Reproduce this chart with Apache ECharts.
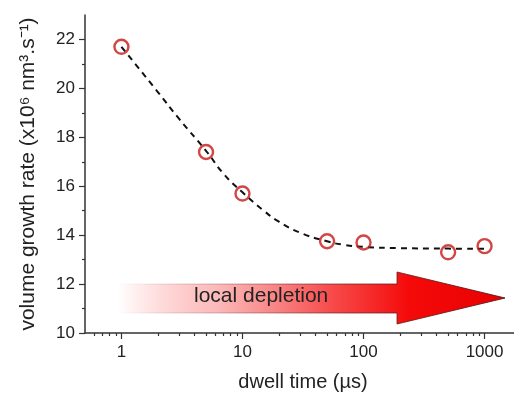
<!DOCTYPE html>
<html lang="en">
<head>
    <meta charset="UTF-8">
    <title>dwell time</title>
    <script src="https://cdn.jsdelivr.net/npm/echarts@6/dist/echarts.min.js"></script>
    <style type="text/css">
        body { margin: 0; background: #fff; }
        #main { width: 514px; height: 394px; }
    </style>
</head>
<body>
<div id="main"></div>
<script>
    // measured points
    var dwellTime = [1, 5, 10, 50, 100, 500, 1000];
    var growthRate = [21.7, 17.4, 15.7, 13.75, 13.7, 13.3, 13.55];

    // dashed fit curve
    var fitTime = [1, 2, 3, 5, 7, 10, 15, 20, 30, 50, 70, 100, 200, 500, 1000];
    var fitRate = [21.7, 19.85, 18.75, 17.45, 16.5, 15.75, 15.0, 14.55, 14.1, 13.75, 13.6, 13.52, 13.47, 13.45, 13.44];

    // ticks
    var xMajor = [1, 10, 100, 1000];
    var xMinor = [0.6, 0.7, 0.8, 0.9, 2, 3, 4, 5, 6, 7, 8, 9, 20, 30, 40, 50, 60, 70, 80, 90,
        200, 300, 400, 500, 600, 700, 800, 900];
    var yMajor = [10, 12, 14, 16, 18, 20, 22];
    var yMinor = [11, 13, 15, 17, 19, 21];

    var pairs = function (xs, ys) {
        var res = [];
        for (var i = 0; i < xs.length; i++) res.push([xs[i], ys[i]]);
        return res;
    };

    var axisColor = '#333';
    var font = 'Liberation Sans, Arial, sans-serif';

    var baseX = {
        type: 'log', min: 0.5, max: 2000, logBase: 10,
        splitLine: { show: false }
    };
    var baseY = {
        type: 'value', min: 10, max: 23,
        splitLine: { show: false }
    };

    var option = {
        backgroundColor: '#fff',
        animation: false,
        grid: { left: 85, top: 15, right: -7, bottom: 61, outerBoundsMode: 'none', containLabel: false },
        xAxis: [
            Object.assign({}, baseX, {
                name: 'dwell time (\u00b5s)',
                nameLocation: 'middle',
                nameGap: 39,
                nameTextStyle: { fontSize: 20, color: '#222', fontFamily: font },
                axisLine: { lineStyle: { color: axisColor, width: 1.5 } },
                axisTick: { customValues: xMajor, length: 6, lineStyle: { color: axisColor, width: 1.2 } },
                axisLabel: {
                    customValues: xMajor, margin: 11, fontSize: 17, color: '#222', fontFamily: font,
                    formatter: function (v) { return String(v); }
                }
            }),
            Object.assign({}, baseX, {
                position: 'bottom',
                axisLine: { show: false },
                axisTick: { customValues: xMinor, length: 3, lineStyle: { color: axisColor, width: 1.2 } },
                axisLabel: { show: false }
            })
        ],
        yAxis: [
            Object.assign({}, baseY, {
                name: 'volume growth rate (x10\u2076 nm\u00b3.s\u207b\u00b9)',
                nameLocation: 'middle',
                nameGap: 46,
                nameTextStyle: { fontSize: 21, color: '#222', fontFamily: font },
                axisLine: { show: true, lineStyle: { color: axisColor, width: 1.5 } },
                axisTick: { show: true, customValues: yMajor, length: 6, lineStyle: { color: axisColor, width: 1.2 } },
                axisLabel: { customValues: yMajor, margin: 10, fontSize: 17, color: '#222', fontFamily: font }
            }),
            Object.assign({}, baseY, {
                position: 'left',
                axisLine: { show: false },
                axisTick: { show: true, customValues: yMinor, length: 3, lineStyle: { color: axisColor, width: 1.2 } },
                axisLabel: { show: false }
            })
        ],
        graphic: [
            {
                type: 'polygon',
                z: 1,
                shape: {
                    points: [[118, 284], [397, 284], [397, 272], [505, 298], [397, 324], [397, 313], [118, 313]]
                },
                style: {
                    fill: new echarts.graphic.LinearGradient(0, 0, 1, 0, [
                        { offset: 0, color: 'rgba(255,0,0,0)' },
                        { offset: 0.25, color: 'rgba(245,60,60,0.35)' },
                        { offset: 0.55, color: 'rgba(245,30,30,0.8)' },
                        { offset: 0.75, color: 'rgba(245,10,10,1)' },
                        { offset: 1, color: '#e80000' }
                    ]),
                    stroke: new echarts.graphic.LinearGradient(0, 0, 1, 0, [
                        { offset: 0, color: 'rgba(90,40,40,0)' },
                        { offset: 0.6, color: 'rgba(90,30,30,0.7)' },
                        { offset: 1, color: 'rgba(90,20,20,0.9)' }
                    ]),
                    lineWidth: 1
                }
            },
            {
                type: 'text',
                z: 2,
                left: 194,
                top: 286,
                style: { text: 'local depletion', fill: '#222', font: '21px ' + font }
            }
        ],
        series: [
            {
                type: 'line',
                data: pairs(fitTime, fitRate),
                smooth: true,
                showSymbol: false,
                z: 3,
                lineStyle: { color: '#111', width: 2, type: [6, 5] }
            },
            {
                type: 'scatter',
                data: pairs(dwellTime, growthRate),
                symbol: 'circle',
                symbolSize: 14,
                z: 4,
                itemStyle: { color: 'rgba(255,255,255,0)', borderColor: '#c81818', borderWidth: 2.4 }
            }
        ]
    };

    var myChart = echarts.init(document.getElementById('main'));
    myChart.setOption(option);
</script>
</body>
</html>
